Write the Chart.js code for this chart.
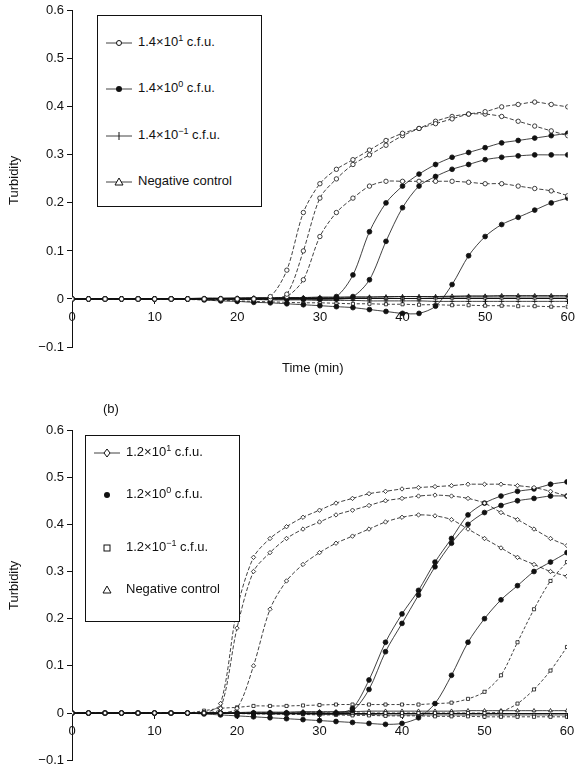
<!DOCTYPE html>
<html>
<head>
<meta charset="utf-8">
<script src="https://cdn.jsdelivr.net/npm/chart.js@4"></script>
<style>
  body { margin: 0; background: #fff; font-family: "Liberation Sans", Arial, sans-serif; color: #111; }
  .panel { position: absolute; left: 0; width: 581px; }
  .lbl { position: absolute; font-size: 13px; }
  .ytitle { position: absolute; font-size: 13px; transform: rotate(-90deg); transform-origin: left top; }
  .legend { position: absolute; border: 1px solid #111; background: #fff; font-size: 13px; }
  .legend div { position: absolute; left: 8px; white-space: nowrap; line-height: 16px; }
  .legend svg { margin-right: 6px; vertical-align: middle; }
  .legend sup { font-size: 9px; line-height: 0; vertical-align: 5px; }
</style>
</head>
<body>
<div class="panel" style="top:0;height:385px"><canvas id="chartA"></canvas></div>
<div class="panel" style="top:400px;height:371px"><canvas id="chartB"></canvas></div>
<div class="ytitle" style="left:6px;top:205px">Turbidity</div>
<div class="ytitle" style="left:6px;top:610px">Turbidity</div>
<div class="lbl" style="left:282px;top:360px">Time (min)</div>
<div class="lbl" style="left:103px;top:401px">(b)</div>

<div class="legend" style="left:97px;top:15px;width:163px;height:190px">
  <div style="top:18px"><svg width="26" height="10"><line x1="0" y1="5" x2="26" y2="5" stroke="#111" stroke-width="0.8"/><circle cx="13" cy="5" r="2.5" fill="#fff" stroke="#111"/></svg>1.4×10<sup>1</sup> c.f.u.</div>
  <div style="top:64px"><svg width="26" height="10"><line x1="0" y1="5" x2="26" y2="5" stroke="#111" stroke-width="0.8"/><circle cx="13" cy="5" r="3" fill="#111"/></svg>1.4×10<sup>0</sup> c.f.u.</div>
  <div style="top:111px"><svg width="26" height="10"><line x1="0" y1="5" x2="26" y2="5" stroke="#111" stroke-width="0.8"/><line x1="13" y1="1" x2="13" y2="9" stroke="#111"/></svg>1.4×10<sup>−1</sup> c.f.u.</div>
  <div style="top:157px"><svg width="26" height="10"><line x1="0" y1="5" x2="26" y2="5" stroke="#111" stroke-width="0.8"/><polygon points="13,1 17,8 9,8" fill="#fff" stroke="#111"/></svg>Negative control</div>
</div>

<div class="legend" style="left:85px;top:435px;width:153px;height:185px">
  <div style="top:8px"><svg width="26" height="10"><line x1="0" y1="5" x2="26" y2="5" stroke="#111" stroke-width="0.8"/><polygon points="13,1 16,5 13,9 10,5" fill="#fff" stroke="#111"/></svg>1.2×10<sup>1</sup> c.f.u.</div>
  <div style="top:50px"><svg width="26" height="10"><circle cx="13" cy="5" r="3" fill="#111"/></svg>1.2×10<sup>0</sup> c.f.u.</div>
  <div style="top:103px"><svg width="26" height="10"><rect x="10" y="2" width="6" height="6" fill="#fff" stroke="#111"/></svg>1.2×10<sup>−1</sup> c.f.u.</div>
  <div style="top:145px"><svg width="26" height="10"><polygon points="13,1 17,8 9,8" fill="#fff" stroke="#111"/></svg>Negative control</div>
</div>

<script>
// time points (min)
const times = [0,2,4,6,8,10,12,14,16,18,20,22,24,26,28,30,32,34,36,38,40,42,44,46,48,50,52,54,56,58,60];
const xTicks = [0,10,20,30,40,50,60];
const yTicks = [-0.1,0,0.1,0.2,0.3,0.4,0.5,0.6];

// (a) 1.4x10^1 c.f.u.
const a1 = [0,0,0,0,0,0,0,0,0,0,0,0,0.005,0.06,0.18,0.24,0.27,0.29,0.31,0.33,0.345,0.355,0.365,0.375,0.385,0.39,0.4,0.405,0.41,0.405,0.4];
const a2 = [0,0,0,0,0,0,0,0,0,0,0,0,0,0.01,0.1,0.21,0.25,0.28,0.3,0.32,0.34,0.355,0.37,0.38,0.385,0.385,0.38,0.37,0.36,0.35,0.34];
const a3 = [0,0,0,0,0,0,0,0,0,0,0,0,0,0.005,0.04,0.13,0.18,0.21,0.235,0.245,0.245,0.245,0.245,0.245,0.243,0.24,0.24,0.235,0.23,0.225,0.215];
// (a) 1.4x10^0 c.f.u.
const b1 = [0,0,0,0,0,0,0,0,0,0,0,0,0,0,0,0,0.005,0.05,0.14,0.2,0.235,0.26,0.28,0.295,0.305,0.315,0.325,0.33,0.335,0.34,0.345];
const b2 = [0,0,0,0,0,0,0,0,0,0,0,0,0,0,0,0,0,0.005,0.04,0.12,0.19,0.235,0.255,0.27,0.28,0.29,0.295,0.298,0.3,0.3,0.3];
const b3 = [0,0,0,0,0,0,0,0,-0.002,-0.004,-0.005,-0.007,-0.008,-0.01,-0.012,-0.014,-0.016,-0.018,-0.022,-0.026,-0.03,-0.03,-0.015,0.03,0.09,0.13,0.155,0.17,0.185,0.2,0.21];
// (a) 1.4x10^-1 c.f.u.
const x1 = [0,0,0,0,0,0,0.001,0.001,0.002,0.002,0.002,0.003,0.003,0.003,0.003,0.004,0.004,0.004,0.004,0.005,0.005,0.005,0.005,0.005,0.006,0.006,0.006,0.006,0.006,0.006,0.006];
const x2 = [0,0,0,0,0,0,0,0,0,0,-0.001,-0.001,-0.002,-0.002,-0.002,-0.003,-0.003,-0.003,-0.004,-0.004,-0.004,-0.004,-0.005,-0.005,-0.005,-0.005,-0.005,-0.005,-0.005,-0.005,-0.005];
const x3 = [0,0,0,0,0,0,0,-0.001,-0.002,-0.003,-0.004,-0.005,-0.006,-0.007,-0.008,-0.008,-0.009,-0.01,-0.01,-0.011,-0.011,-0.012,-0.012,-0.013,-0.013,-0.014,-0.014,-0.015,-0.015,-0.016,-0.016];
// (a) negative control
const n1 = [0,0,0,0,0,0,0,0,0.001,0.001,0.002,0.002,0.002,0.003,0.003,0.003,0.003,0.004,0.004,0.004,0.005,0.005,0.005,0.006,0.006,0.006,0.007,0.007,0.007,0.007,0.007];
const n2 = [0,0,0,0,0,0,0,0,0,0,0,0,0,0,0,0,0,0.001,0.001,0.001,0.001,0.001,0.002,0.002,0.002,0.002,0.002,0.002,0.002,0.002,0.002];

// (b) 1.2x10^1 c.f.u.
const c1 = [0,0,0,0,0,0,0,0,0,0.02,0.22,0.33,0.37,0.395,0.415,0.43,0.445,0.455,0.465,0.47,0.475,0.478,0.48,0.482,0.485,0.485,0.485,0.482,0.478,0.47,0.46];
const c2 = [0,0,0,0,0,0,0,0,0,0.01,0.18,0.3,0.34,0.37,0.39,0.405,0.42,0.43,0.44,0.45,0.455,0.46,0.462,0.46,0.455,0.445,0.425,0.41,0.39,0.37,0.355];
const c3 = [0,0,0,0,0,0,0,0,0,0,0.01,0.1,0.22,0.28,0.315,0.34,0.36,0.375,0.39,0.405,0.415,0.42,0.418,0.41,0.39,0.37,0.35,0.33,0.315,0.3,0.29];
// (b) 1.2x10^0 c.f.u.
const d1 = [0,0,0,0,0,0,0,0,0,0,0,0,0,0,0,0,0,0.01,0.07,0.15,0.21,0.26,0.32,0.37,0.42,0.445,0.46,0.47,0.475,0.485,0.49];
const d2 = [0,0,0,0,0,0,0,0,0,0,0,0,0,0,0,0,0,0.005,0.05,0.13,0.19,0.25,0.31,0.36,0.4,0.425,0.44,0.45,0.455,0.46,0.46];
const d3 = [0,0,0,0,0,0,0,0,-0.002,-0.004,-0.006,-0.008,-0.01,-0.012,-0.014,-0.016,-0.018,-0.02,-0.022,-0.024,-0.022,-0.01,0.02,0.08,0.15,0.2,0.24,0.27,0.3,0.32,0.34];
// (b) 1.2x10^-1 c.f.u.
const e1 = [0,0,0,0,0,0,0,0,0.005,0.01,0.012,0.015,0.015,0.015,0.016,0.017,0.018,0.018,0.018,0.018,0.018,0.018,0.02,0.022,0.03,0.045,0.08,0.15,0.22,0.28,0.32];
const e2 = [0,0,0,0,0,0,0,0,0,0,0,0,0,0,0,0,0,0,0,0,0,0,0,0,0,0,0.003,0.02,0.05,0.09,0.14];
const e3 = [0,0,0,0,0,0,0,0,0,-0.001,-0.001,-0.002,-0.002,-0.003,-0.003,-0.004,-0.004,-0.005,-0.005,-0.006,-0.006,-0.006,-0.007,-0.007,-0.007,-0.008,-0.008,-0.008,-0.008,-0.008,-0.008];
// (b) negative control
const m1 = [0,0,0,0,0,0,0,0,0,0.001,0.001,0.002,0.002,0.002,0.003,0.003,0.003,0.003,0.004,0.004,0.004,0.004,0.004,0.004,0.005,0.005,0.005,0.005,0.005,0.005,0.005];
const m2 = [0,0,0,0,0,0,0,0,0,0,-0.001,-0.001,-0.002,-0.002,-0.002,-0.003,-0.003,-0.003,-0.003,-0.004,-0.004,-0.004,-0.004,-0.004,-0.004,-0.004,-0.004,-0.004,-0.004,-0.004,-0.004];

function ds(values, style, fill, dash) {
    return {
        data: times.map((t, i) => ({ x: t, y: values[i] })),
        borderColor: '#111', borderWidth: 0.8, borderDash: dash || [],
        pointStyle: style, pointRadius: style === 'circle' && fill ? 2.4 : 2.2,
        pointBackgroundColor: fill ? '#111' : '#fff', pointBorderColor: '#111', pointBorderWidth: 0.8,
        tension: 0.3
    };
}

function options(pad) {
    return {
        responsive: true, maintainAspectRatio: false, animation: false,
        layout: { padding: pad },
        plugins: { legend: { display: false }, tooltip: { enabled: false } },
        scales: {
            x: {
                type: 'linear', min: 0, max: 60, position: { y: 0 },
                afterBuildTicks: s => { s.ticks = xTicks.map(v => ({ value: v })); },
                ticks: { color: '#111', font: { family: 'Liberation Sans', size: 13 }, padding: 6 },
                grid: { drawOnChartArea: false, tickLength: 5, color: '#111' },
                border: { color: '#111' }
            },
            y: {
                min: -0.1, max: 0.6,
                afterBuildTicks: s => { s.ticks = yTicks.map(v => ({ value: v })); },
                afterFit: s => { s.width = 62; },
                ticks: { color: '#111', font: { family: 'Liberation Sans', size: 13 },
                    callback: v => v < 0 ? '−0.1' : (v === 0 ? '0' : v.toFixed(1)) },
                grid: { drawOnChartArea: false, tickLength: 5, color: '#111' },
                border: { color: '#111' }
            }
        }
    };
}

new Chart(document.getElementById('chartA'), {
    type: 'line',
    data: { datasets: [
        ds(a1, 'circle', false, [4, 2]), ds(a2, 'circle', false, [4, 2]), ds(a3, 'circle', false, [4, 2]),
        ds(b1, 'circle', true), ds(b2, 'circle', true), ds(b3, 'circle', true),
        ds(x1, 'cross', false), ds(x2, 'cross', false), ds(x3, 'rect', false, [3, 2]),
        ds(n1, 'triangle', false), ds(n2, 'triangle', false)
    ] },
    options: options({ left: 10, right: 9, top: 8, bottom: 38 })
});

new Chart(document.getElementById('chartB'), {
    type: 'line',
    data: { datasets: [
        ds(c1, 'rectRot', false, [4, 2]), ds(c2, 'rectRot', false, [4, 2]), ds(c3, 'rectRot', false, [4, 2]),
        ds(d1, 'circle', true), ds(d2, 'circle', true), ds(d3, 'circle', true),
        ds(e1, 'rect', false, [3, 2]), ds(e2, 'rect', false, [3, 2]), ds(e3, 'rect', false, [3, 2]),
        ds(m1, 'triangle', false), ds(m2, 'triangle', false)
    ] },
    options: options({ left: 10, right: 14, top: 30, bottom: 0 })
});
</script>
</body>
</html>
